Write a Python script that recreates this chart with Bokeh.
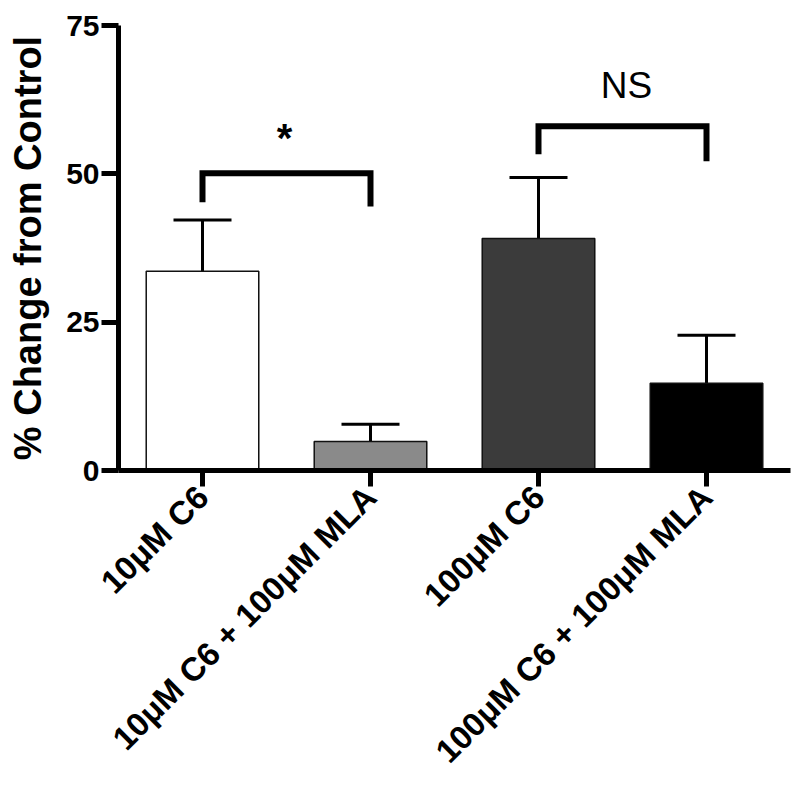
from bokeh.plotting import figure
from bokeh.models import FactorRange, Range1d, Whisker, TeeHead, ColumnDataSource, FixedTicker
from bokeh.embed import file_html
from bokeh.resources import INLINE
from bokeh.core.properties import value
import math

categories = ["10\u03bcM C6", "10\u03bcM C6 + 100\u03bcM MLA", "100\u03bcM C6", "100\u03bcM C6 + 100\u03bcM MLA"]
means = [33.6, 4.9, 39.1, 14.7]
errors = [8.6, 2.9, 10.3, 8.1]
bar_colors = ["#ffffff", "#8a8a8a", "#3b3b3b", "#000000"]
y_ticks = [0, 25, 50, 75]

# significance brackets
br_left = [categories[0], categories[2]]
br_right = [categories[1], categories[3]]
br_top = [50.1, 58.0]
br_left_end = [45.2, 53.3]
br_right_end = [44.5, 52.1]
br_label = ["*", "NS"]
br_label_y = [56.5, 64.9]

FONT = "Liberation Sans"

p = figure(x_range=FactorRange(*categories), y_range=Range1d(0, 75),
           width=792, height=786, output_backend="svg", toolbar_location=None,
           min_border_left=118, min_border_right=2, min_border_top=25, min_border_bottom=316)
p.xgrid.visible = False
p.ygrid.visible = False
p.outline_line_color = None
p.background_fill_color = "white"

src = ColumnDataSource(dict(x=categories, top=means,
                            upper=[m + e for m, e in zip(means, errors)],
                            color=bar_colors))
p.vbar(x="x", top="top", width=0.67, bottom=0, source=src,
       fill_color="color", line_color="#111111", line_width=1.5)

wh = Whisker(base="x", lower="top", upper="upper", source=src,
             line_width=3, line_color="black",
             upper_head=TeeHead(size=58, line_width=3, line_color="black"),
             lower_head=None)
p.add_layout(wh)

# brackets
xs = []
ys = []
for l, r, t, le, re in zip(br_left, br_right, br_top, br_left_end, br_right_end):
    xs.append([l, l, r, r])
    ys.append([le, t, t, re])
p.multi_line(xs=xs, ys=ys, line_width=6, line_color="black", line_join="miter")

p.text(x=[br_left[0]], y=[br_label_y[0]], text=[br_label[0]],
       x_offset=[82], y_offset=[3], text_align="center", text_baseline="middle",
       text_font=value(FONT), text_font_size="40px", text_font_style="bold", text_color="black")
p.text(x=[br_left[1]], y=[br_label_y[1]], text=[br_label[1]],
       x_offset=[88], text_align="center", text_baseline="middle",
       text_font=value(FONT), text_font_size="37px", text_font_style="normal", text_color="black")

# axes
for ax in (p.xaxis, p.yaxis):
    ax.axis_line_width = 5
    ax.axis_line_color = "black"
    ax.major_tick_line_width = 5
    ax.major_tick_line_color = "black"
    ax.minor_tick_line_color = None
    ax.major_tick_in = 0
    ax.major_label_text_font = FONT
    ax.major_label_text_font_style = "bold"
    ax.major_label_text_color = "black"

p.yaxis.ticker = FixedTicker(ticks=y_ticks)
p.yaxis.major_tick_out = 17
p.yaxis.major_label_text_font_size = "30px"
p.yaxis.major_label_standoff = 2
p.yaxis.axis_label = "% Change from Control"
p.yaxis.axis_label_text_font = FONT
p.yaxis.axis_label_text_font_style = "bold"
p.yaxis.axis_label_text_font_size = "38px"
p.yaxis.axis_label_text_color = "black"
p.yaxis.axis_label_standoff = 14

p.xaxis.major_tick_out = 16
p.xaxis.major_label_orientation = math.pi / 4
p.xaxis.major_label_text_font_size = "33px"
p.xaxis.major_label_standoff = 5

open("out.html", "w").write(file_html(p, INLINE))
